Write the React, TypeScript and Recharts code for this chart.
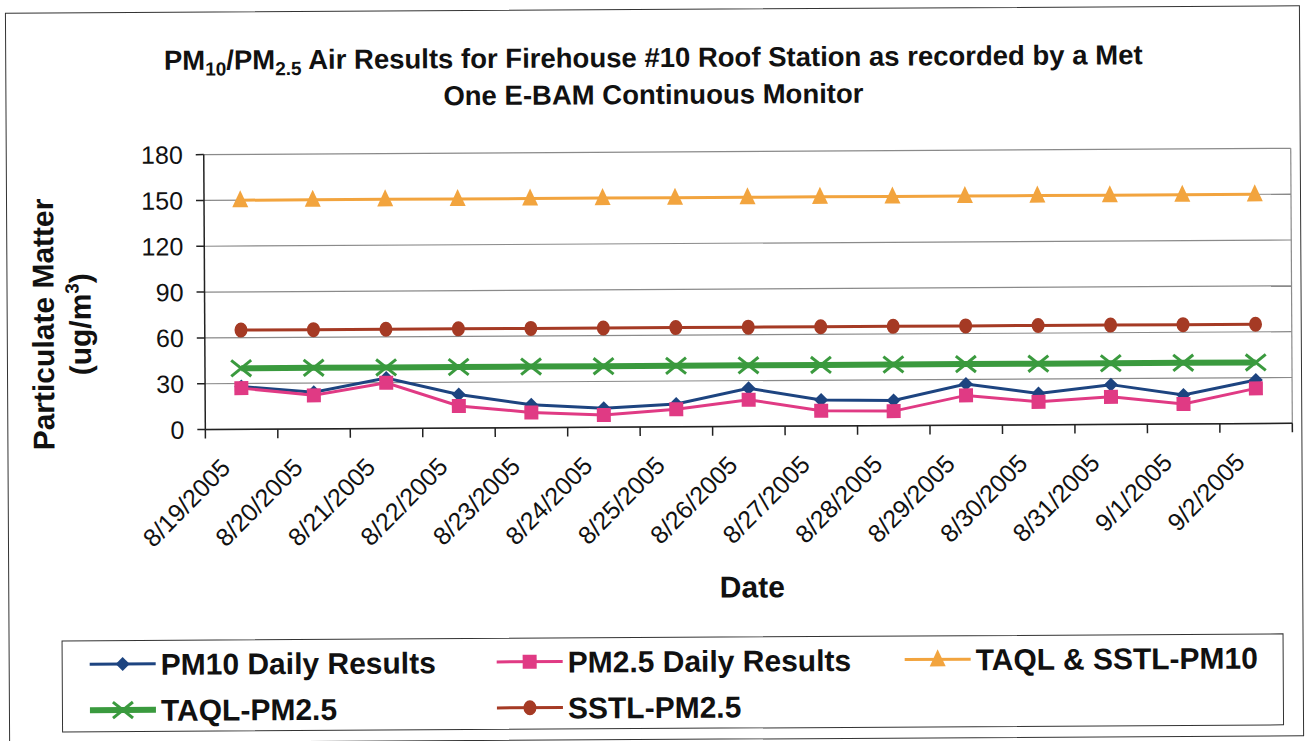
import React from 'react';
import { LineChart, Line, XAxis, YAxis, CartesianGrid, ReferenceLine } from 'recharts';

const dates = [
  '8/19/2005', '8/20/2005', '8/21/2005', '8/22/2005', '8/23/2005',
  '8/24/2005', '8/25/2005', '8/26/2005', '8/27/2005', '8/28/2005',
  '8/29/2005', '8/30/2005', '8/31/2005', '9/1/2005', '9/2/2005',
];
const pm10Daily = [28, 24, 33, 22, 15, 12.5, 15, 25, 17, 16.5, 27, 20.5, 26, 19, 28.5];
const pm25Daily = [27, 22, 30, 14.5, 10, 8, 11.5, 17.5, 10, 9.5, 19.5, 15, 18, 13, 23];
const taqlSstlPm10 = [150, 150, 150, 150, 150, 150, 150, 150, 150, 150, 150, 150, 150, 150, 150];
const taqlPm25 = [40, 40, 40, 40, 40, 40, 40, 40, 40, 40, 40, 40, 40, 40, 40];
const sstlPm25 = [65, 65, 65, 65, 65, 65, 65, 65, 65, 65, 65, 65, 65, 65, 65];
const yTicks = [0, 30, 60, 90, 120, 150, 180];

const seriesDefs = [
  { key: 'pm10', name: 'PM10 Daily Results', values: pm10Daily, color: '#1d4480', width: 3, marker: 'diamond' },
  { key: 'pm25', name: 'PM2.5 Daily Results', values: pm25Daily, color: '#e03a84', width: 3, marker: 'square' },
  { key: 'taqlSstlPm10', name: 'TAQL & SSTL-PM10', values: taqlSstlPm10, color: '#f2a43e', width: 3, marker: 'triangle' },
  { key: 'taqlPm25', name: 'TAQL-PM2.5', values: taqlPm25, color: '#3a9a3e', width: 6, marker: 'x' },
  { key: 'sstlPm25', name: 'SSTL-PM2.5', values: sstlPm25, color: '#a53a24', width: 3, marker: 'circle' },
];

const data = dates.map((d, i) => {
  const row: Record<string, number | string> = { x: i + 0.5, date: d };
  seriesDefs.forEach((s) => { row[s.key] = s.values[i]; });
  return row;
});
const boundaryTicks = dates.map((_, i) => i).concat([dates.length]);
const centerTicks = dates.map((_, i) => i + 0.5);

const FONT = '"Liberation Sans", Arial, sans-serif';

function Marker({ type, cx, cy, color }: { type: string; cx: number; cy: number; color: string }) {
  switch (type) {
    case 'diamond':
      return <polygon points={`${cx},${cy - 7} ${cx + 7},${cy} ${cx},${cy + 7} ${cx - 7},${cy}`} fill={color} />;
    case 'square':
      return <rect x={cx - 7} y={cy - 7} width={14} height={14} fill={color} />;
    case 'triangle':
      return <polygon points={`${cx},${cy - 10} ${cx + 8},${cy + 7} ${cx - 8},${cy + 7}`} fill={color} />;
    case 'x':
      return (
        <g stroke={color} strokeWidth={3}>
          <line x1={cx - 10} y1={cy - 8} x2={cx + 10} y2={cy + 8} />
          <line x1={cx - 10} y1={cy + 8} x2={cx + 10} y2={cy - 8} />
        </g>
      );
    case 'circle':
      return <ellipse cx={cx} cy={cy} rx={6.5} ry={7.5} fill={color} />;
    default:
      return null;
  }
}

function EmptyTick() {
  return <g />;
}

function DateTick(props: any) {
  const { x, y, payload } = props;
  const label = dates[Math.floor(payload.value)];
  return (
    <g transform={`translate(${x - 10},${y + 30})`}>
      <text transform="rotate(-45)" textAnchor="end" fontSize={25} fill="#111" fontFamily={FONT}>
        {label}
      </text>
    </g>
  );
}

const legendLayout = [
  { key: 'pm10', lx: 88, ly: 661 },
  { key: 'pm25', lx: 495, ly: 661 },
  { key: 'taqlSstlPm10', lx: 903, ly: 661 },
  { key: 'taqlPm25', lx: 88, ly: 707 },
  { key: 'sstlPm25', lx: 495, ly: 707 },
];

export default function App() {
  return (
    <div style={{ position: 'absolute', left: 0, top: 0, width: 1305, height: 741, background: '#fff', overflow: 'hidden' }}>
      <div style={{ position: 'absolute', left: 0, top: 0, width: 1305, height: 741, transform: 'rotate(-0.33deg)' }}>
        <div style={{ position: 'absolute', left: 7, top: 9, width: 1295, height: 731, border: '1.5px solid #333', boxSizing: 'border-box' }} />
        <div style={{ position: 'absolute', left: 60, top: 637, width: 1222, height: 92, border: '1.5px solid #333', boxSizing: 'border-box' }} />
        <div style={{ position: 'absolute', left: 0, top: 0 }}>
          <LineChart width={1305} height={741} data={data} margin={{ top: 152, right: 13, bottom: 153, left: 145 }}>
            <CartesianGrid xAxisId="a" horizontal vertical={false} stroke="#8a8a8a" strokeWidth={1.2} />
            <XAxis xAxisId="b" type="number" dataKey="x" domain={[0, 15]} ticks={centerTicks} tick={<DateTick />}
              axisLine={false} tickLine={false} tickSize={0} tickMargin={0} height={151} interval={0} />
            <XAxis xAxisId="a" type="number" dataKey="x" domain={[0, 15]} ticks={boundaryTicks} tick={<EmptyTick />}
              tickLine={{ stroke: '#222', strokeWidth: 1.5 }} tickSize={9} height={10} stroke="#222" strokeWidth={1.5} interval={0} />
            <YAxis type="number" domain={[0, 180]} ticks={yTicks} width={60} tickSize={8} tickMargin={13}
              tick={{ fontSize: 25, fill: '#111', fontFamily: FONT }} stroke="#222" strokeWidth={1.5} />
            <ReferenceLine xAxisId="a" x={15} stroke="#8a8a8a" strokeWidth={1.2} />
            {seriesDefs.map((s) => (
              <Line key={s.key} xAxisId="a" type="linear" dataKey={s.key} name={s.name} stroke={s.color}
                strokeWidth={s.width} isAnimationActive={false} activeDot={false}
                dot={(p: any) => <Marker key={`${s.key}-${p.index}`} type={s.marker} cx={p.cx} cy={p.cy} color={s.color} />} />
            ))}
          </LineChart>
        </div>
        <svg width={1305} height={741} style={{ position: 'absolute', left: 0, top: 0, pointerEvents: 'none' }} fontFamily={FONT}>
          <text x={655} y={67} textAnchor="middle" fontSize={27.5} fontWeight="bold" fill="#111">
            <tspan>PM</tspan>
            <tspan fontSize={19} dy={6}>10</tspan>
            <tspan dy={-6}>/PM</tspan>
            <tspan fontSize={19} dy={6}>2.5</tspan>
            <tspan dy={-6}> Air Results for Firehouse #10 Roof Station as recorded by a Met</tspan>
          </text>
          <text x={655} y={104} textAnchor="middle" fontSize={27.5} fontWeight="bold" fill="#111">One E-BAM Continuous Monitor</text>
          <text transform="translate(54,321) rotate(-90)" textAnchor="middle" fontSize={30} fontWeight="bold" fill="#111">Particulate Matter</text>
          <text transform="translate(91,321) rotate(-90)" textAnchor="middle" fontSize={30} fontWeight="bold" fill="#111">
            <tspan>(ug/m</tspan>
            <tspan fontSize={19} dy={-12}>3</tspan>
            <tspan dy={12}>)</tspan>
          </text>
          <text x={751} y={598} textAnchor="middle" fontSize={30} fontWeight="bold" fill="#111">Date</text>
          {legendLayout.map((l) => {
            const s = seriesDefs.find((d) => d.key === l.key)!;
            const cx = l.lx + 33;
            return (
              <g key={l.key}>
                <line x1={l.lx} y1={l.ly} x2={l.lx + 66} y2={l.ly} stroke={s.color} strokeWidth={s.width} />
                <Marker type={s.marker} cx={cx} cy={l.ly} color={s.color} />
                <text x={l.lx + 71} y={l.ly + 11} fontSize={30} fontWeight="bold" fill="#111">{s.name}</text>
              </g>
            );
          })}
        </svg>
      </div>
    </div>
  );
}
